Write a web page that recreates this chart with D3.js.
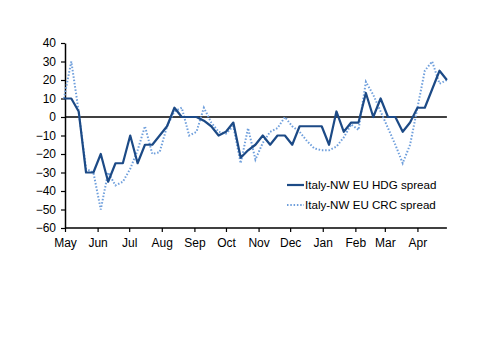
<!DOCTYPE html>
<html lang="en">
<head>
<meta charset="UTF-8">
<title>Italy-NW EU spreads</title>
<script src="https://d3js.org/d3.v7.min.js"></script>
<style>
  body { margin: 0; background: #fff; }
  svg { font-family: "Liberation Sans", Arial, sans-serif; }
  .tick text { font-size: 12px; fill: #000; }
  .legend text { font-size: 11.6px; fill: #000; }
</style>
</head>
<body>
<div id="chart"></div>
<script>
// weekly observations, first one on 30 Apr
const startDate = new Date(2008, 3, 30);
const hdgSpread = [10, 10, 3, -30, -30, -20, -35, -25, -25, -10, -25, -15, -15, -10,
  -5, 5, 0, 0, 0, -2, -5, -10, -8, -3, -22, -18, -15, -10, -15, -10, -10, -15,
  -5, -5, -5, -5, -15, 3, -8, -3, -3, 13, 0, 10, 0, 0, -8, -3, 5, 5, 15, 25, 20];
const crcSpread = [10, 30, 3, -28, -30, -50, -30, -37, -35, -28, -18, -5, -20, -19,
  -5, 3, 5, -10, -8, 5, -3, -8, -9, -5, -25, -6, -23, -14, -8, -6, 0, -5,
  -8, -13, -17, -18, -18, -16, -11, -4, -7, 19, 12, 3, -6, -15, -25, -15, 5, 25, 30, 18, 20];
const yTicks = [40, 30, 20, 10, 0, -10, -20, -30, -40, -50, -60];
const seriesNames = ["Italy-NW EU HDG spread", "Italy-NW EU CRC spread"];

const width = 500, height = 353;
const marginLeft = 65, marginTop = 43;

const dates = hdgSpread.map((_, i) => d3.timeDay.offset(startDate, 7 * i));
const monthTicks = d3.timeMonth.range(new Date(2008, 4, 1), new Date(2009, 4, 1));

const x = d3.scaleTime()
    .domain([new Date(2008, 4, 1), new Date(2009, 4, 1)])
    .range([marginLeft, 449]);

const y = d3.scaleLinear()
    .domain([-60, 40])
    .range([228, marginTop]);

const svg = d3.select("#chart").append("svg")
    .attr("width", width)
    .attr("height", height);

// y axis
svg.append("g")
    .attr("transform", `translate(${marginLeft},0)`)
    .call(d3.axisLeft(y).tickValues(yTicks).tickSize(4).tickPadding(5).tickSizeOuter(0))
    .call(g => g.select(".domain").attr("stroke", "#000").attr("stroke-width", 1.5))
    .call(g => g.selectAll(".tick line").attr("stroke-width", 1.2));

// x axis
const xEnd = x(dates[dates.length - 1]);
svg.append("g")
    .attr("transform", `translate(0,${y(-60)})`)
    .call(d3.axisBottom(x).tickValues(monthTicks).tickFormat(d3.timeFormat("%b"))
        .tickSize(4).tickPadding(6).tickSizeOuter(0))
    .call(g => g.select(".domain").remove())
    .call(g => g.selectAll(".tick line").attr("stroke-width", 1.2))
    .call(g => g.append("line")
        .attr("x1", marginLeft).attr("x2", xEnd)
        .attr("stroke", "#000").attr("stroke-width", 1.5));

// zero line
svg.append("line")
    .attr("x1", marginLeft).attr("x2", xEnd)
    .attr("y1", y(0)).attr("y2", y(0))
    .attr("stroke", "#000").attr("stroke-width", 1.3);

const line = d3.line()
    .x((d, i) => x(dates[i]))
    .y(d => y(d));

svg.append("path")
    .datum(crcSpread)
    .attr("fill", "none")
    .attr("stroke", "#6f9fdc")
    .attr("stroke-width", 2)
    .attr("stroke-dasharray", "1.5,1.8")
    .attr("d", line);

svg.append("path")
    .datum(hdgSpread)
    .attr("fill", "none")
    .attr("stroke", "#1c4a86")
    .attr("stroke-width", 2.2)
    .attr("stroke-linejoin", "round")
    .attr("d", line);

// legend
const legend = svg.append("g").attr("class", "legend");
const styles = [
  { stroke: "#1c4a86", width: 2.2, dash: null },
  { stroke: "#6f9fdc", width: 2, dash: "1.5,1.8" }
];
seriesNames.forEach((name, i) => {
  const yy = 185 + i * 20;
  legend.append("line")
      .attr("x1", 287).attr("x2", 304)
      .attr("y1", yy).attr("y2", yy)
      .attr("stroke", styles[i].stroke)
      .attr("stroke-width", styles[i].width)
      .attr("stroke-dasharray", styles[i].dash);
  legend.append("text")
      .attr("x", 305).attr("y", yy)
      .attr("dy", "0.35em")
      .text(name);
});
</script>
</body>
</html>
